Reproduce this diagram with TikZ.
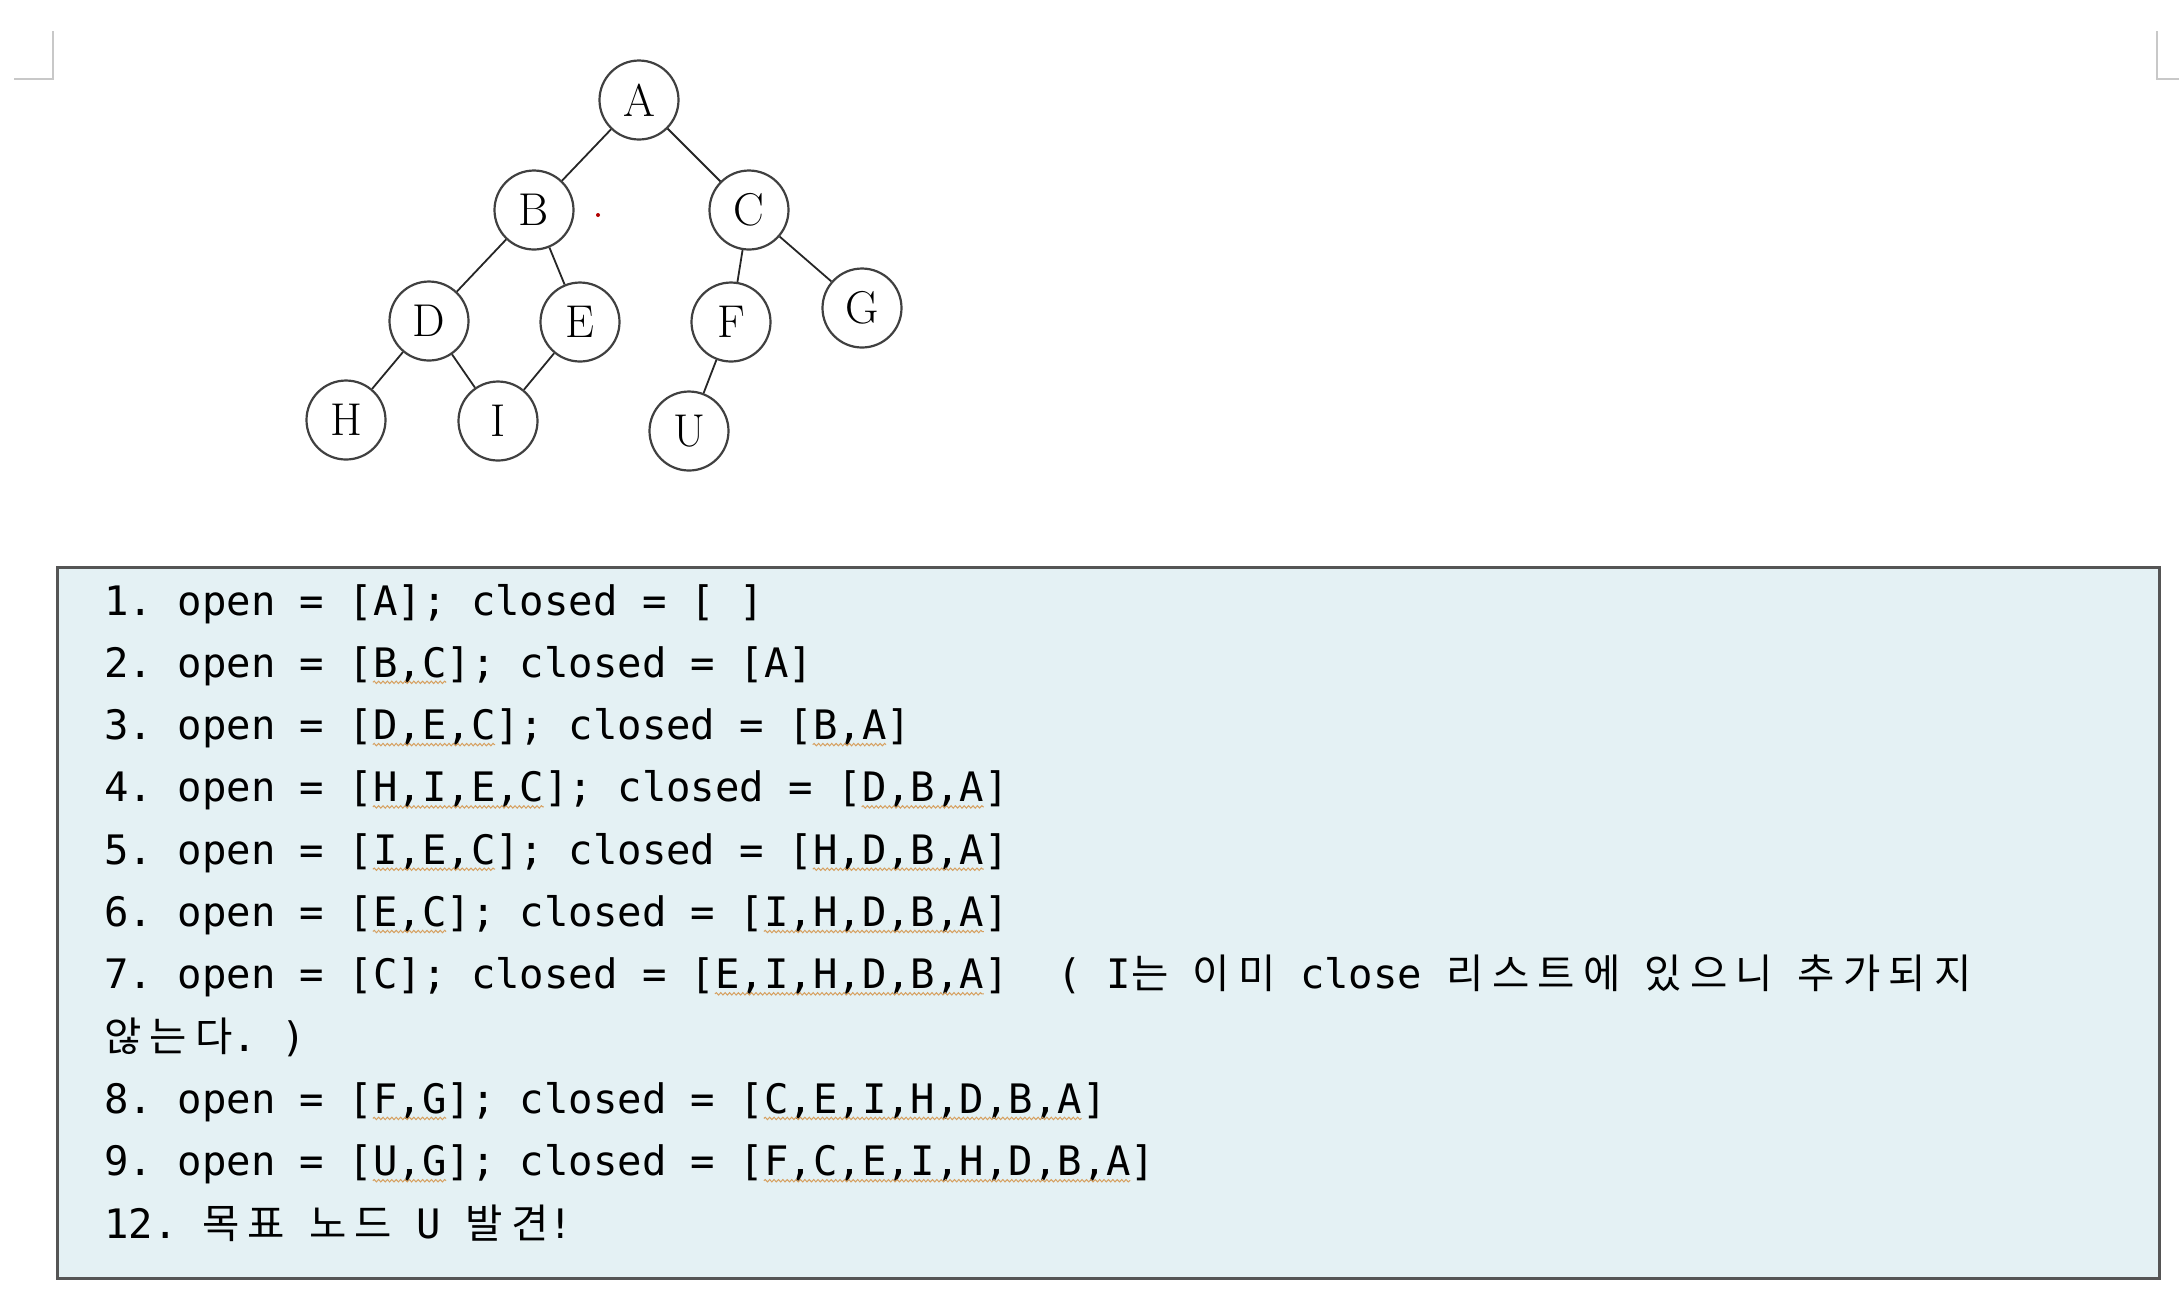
\documentclass[tikz,border=0pt]{standalone}
\usepackage{fontspec}
\usetikzlibrary{calc,decorations.pathmorphing}
\newfontfamily\codefont{DejaVu Sans Mono}
\newfontfamily\krfont[LetterSpace=20]{Noto Sans CJK KR}
\definecolor{boxfill}{RGB}{228,241,244}
\definecolor{boxline}{RGB}{85,85,85}
\definecolor{squig}{RGB}{214,160,96}
\definecolor{cropgray}{RGB}{200,200,200}
\frenchspacing
\tikzset{
  vtx/.style={circle,draw=black!75,line width=1.1pt,minimum size=39.5pt,inner sep=0pt,font=\fontsize{23}{26}\selectfont},
  tlink/.style={draw=black!85,line width=0.9pt},
  stepline/.style={anchor=base west,inner sep=0pt,font=\codefont\fontsize{20.3}{24}\selectfont},
  splchk/.style={squig,line width=0.5pt,decorate,decoration={snake,segment length=2.2pt,amplitude=0.6pt}},
  listbox/.style={draw=boxline,fill=boxfill,line width=1.4pt,anchor=north west,minimum width=1051pt,minimum height=355.5pt},
  cropmark/.style={cropgray,line width=1pt}
}
\newcommand{\kr}[1]{{\krfont #1}}
\newcommand{\cw}{24.44}
\newcommand{\spl}[3]{\draw[splchk] ($(#1.base west)+(#2*\cw,5)$) -- ($(#1.base west)+(#3*\cw,5)$);}

\begin{document}
\begin{tikzpicture}[x=0.5pt,y=-0.5pt]
  \useasboundingbox (0,0) rectangle (2179,1298);
  % page corner marks
  \draw[cropmark] (53,31) -- (53,79) -- (14,79);
  \draw[cropmark] (2157,31) -- (2157,79) -- (2179,79);

  % Search tree
  \node[vtx] (A) at (639,100) {A};
  \node[vtx] (B) at (534,210) {B};
  \node[vtx] (C) at (749,210) {C};
  \node[vtx] (D) at (429,321) {D};
  \node[vtx] (E) at (580,322) {E};
  \node[vtx] (F) at (731,322) {F};
  \node[vtx] (G) at (862,308) {G};
  \node[vtx] (H) at (346,420) {H};
  \node[vtx] (I) at (498,421) {I};
  \node[vtx] (U) at (689,431) {U};
  \foreach \p/\c in {A/B,A/C,B/D,B/E,C/F,C/G,D/H,D/I,E/I,F/U}
    \draw[tlink] (\p) -- (\c);
  \fill[red!70!black] (598,215) circle (2);

  % Trace of open / closed lists
  \node[listbox] (trace) at (56,566) {};
  \node[stepline] (s1) at (104,615) {1. open = [A]; closed = [ ]};
  \node[stepline] (s2) at (104,677.3) {2. open = [B,C]; closed = [A]};
  \node[stepline] (s3) at (104,739.6) {3. open = [D,E,C]; closed = [B,A]};
  \node[stepline] (s4) at (104,801.9) {4. open = [H,I,E,C]; closed = [D,B,A]};
  \node[stepline] (s5) at (104,864.2) {5. open = [I,E,C]; closed = [H,D,B,A]};
  \node[stepline] (s6) at (104,926.5) {6. open = [E,C]; closed = [I,H,D,B,A]};
  \node[stepline] (s7) at (104,988.8) {7. open = [C]; closed = [E,I,H,D,B,A]\ \ ( I\kr{는} \kr{이미} close \kr{리스트에} \kr{있으니} \kr{추가되지}};
  \node[stepline] (s7b) at (104,1051.1) {\kr{않는다}. )};
  \node[stepline] (s8) at (104,1113.4) {8. open = [F,G]; closed = [C,E,I,H,D,B,A]};
  \node[stepline] (s9) at (104,1175.7) {9. open = [U,G]; closed = [F,C,E,I,H,D,B,A]};
  \node[stepline] (s12) at (104,1238) {12. \kr{목표} \kr{노드} U \kr{발견}!};

  % spell-check marks
  \spl{s2}{11}{14}
  \spl{s3}{11}{16} \spl{s3}{29}{32}
  \spl{s4}{11}{18} \spl{s4}{31}{36}
  \spl{s5}{11}{16} \spl{s5}{29}{36}
  \spl{s6}{11}{14} \spl{s6}{27}{36}
  \spl{s7}{25}{36}
  \spl{s8}{11}{14} \spl{s8}{27}{40}
  \spl{s9}{11}{14} \spl{s9}{27}{42}
\end{tikzpicture}
\end{document}
